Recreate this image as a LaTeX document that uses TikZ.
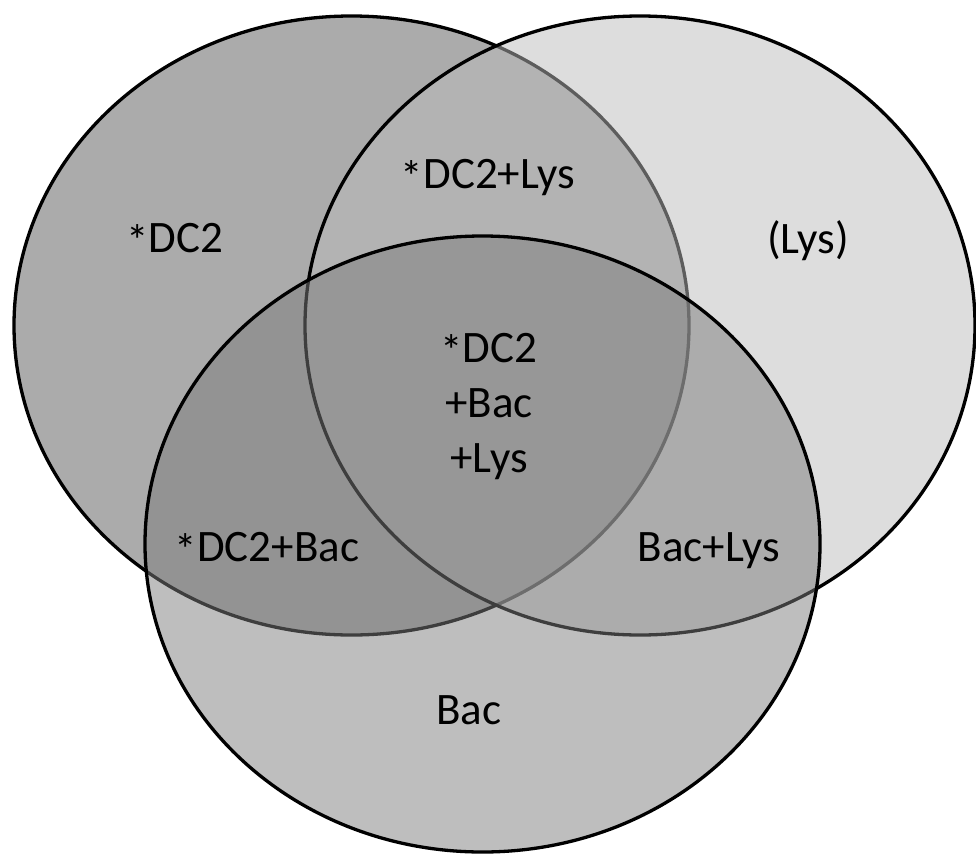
\documentclass[tikz,border=0pt]{standalone}
\usepackage{fontspec}
\setmainfont{Carlito}
\newcommand{\myast}{\raisebox{-0.1em}{*}}
\begin{document}
\begin{tikzpicture}[x=1pt,y=-1pt,
  setline/.style={line width=3.3pt,draw=black},
  lab/.style={font=\fontsize{45}{55}\selectfont,anchor=base,inner sep=0pt,text=black}]
\definecolor{cdc}{gray}{0.671}
\definecolor{clys}{gray}{0.733}
\definecolor{cbac}{gray}{0.49}
\useasboundingbox (0,0) rectangle (976,854);
% DC2
\path[setline,fill=cdc] (351.5,325.5) ellipse [x radius=337.5, y radius=309.5];
% Lys
\path[setline,fill=clys,fill opacity=0.5,draw opacity=1] (640,325.5) ellipse [x radius=335, y radius=309.5];
% Bac
\path[setline,fill=cbac,fill opacity=0.5,draw opacity=1] (482.5,544) ellipse [x radius=337.5, y radius=308];
\node[lab] (dc2) at (175,252) {\myast DC2};
\node[lab] (dc2lys) at (488,188) {\myast DC2+Lys};
\node[lab] (lys) at (808,253) {(Lys)};
\node[lab] (c1) at (489,362) {\myast DC2};
\node[lab] (c2) at (489,417) {+Bac};
\node[lab] (c3) at (489,472) {+Lys};
\node[lab] (dc2bac) at (267,561) {\myast DC2+Bac};
\node[lab] (baclys) at (709,561) {Bac+Lys};
\node[lab] (bac) at (469,724) {Bac};
\end{tikzpicture}
\end{document}
